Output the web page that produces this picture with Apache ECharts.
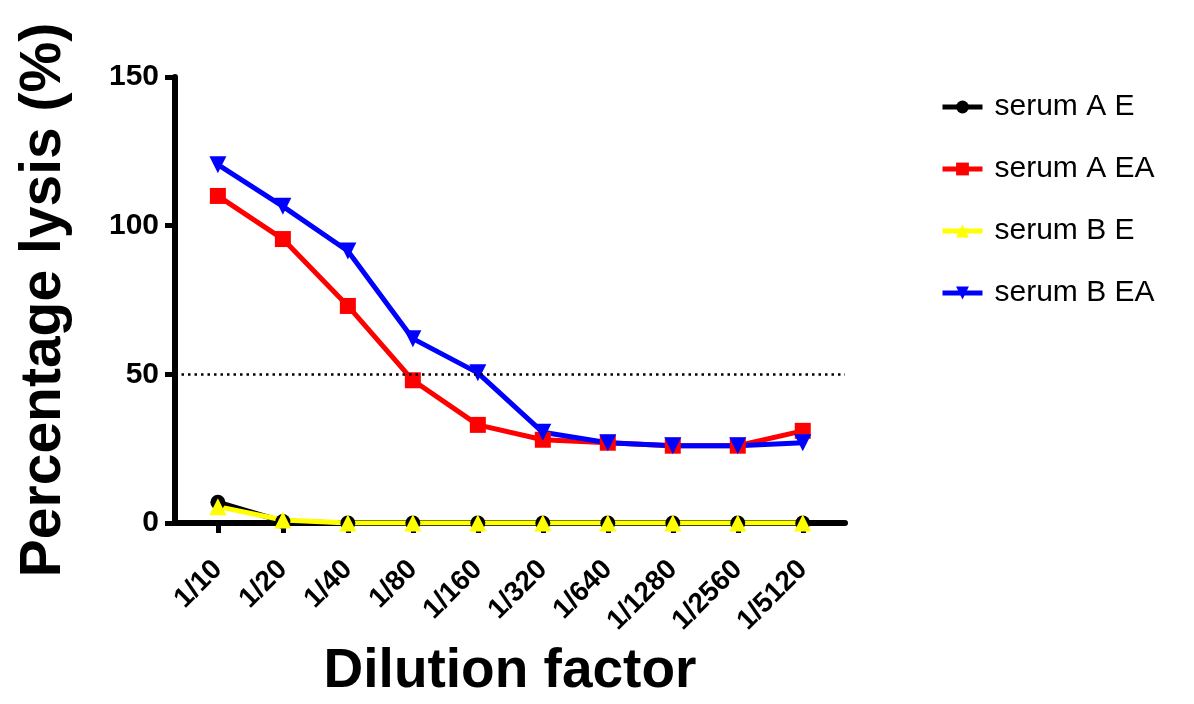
<!DOCTYPE html>
<html>
<head>
<meta charset="utf-8">
<script src="https://cdn.jsdelivr.net/npm/echarts@6/dist/echarts.min.js"></script>
<style>html,body{margin:0;padding:0;background:#fff}#c{width:1194px;height:704px}</style>
</head>
<body>
<div id="c"></div>
<script>
const categories = ['1/10','1/20','1/40','1/80','1/160','1/320','1/640','1/1280','1/2560','1/5120'];
const serumAE  = [7, 0.5, 0, 0, 0, 0, 0, 0, 0, 0];
const serumAEA = [110, 95.5, 73, 48, 33, 28, 27, 26, 26, 31];
const serumBE  = [5.5, 1, 0, 0, 0, 0, 0, 0, 0, 0];
const serumBEA = [120.5, 106.5, 91.5, 62, 50.5, 30.5, 27, 26, 26, 27];
const yTicks = [0, 50, 100, 150];
const refLine = 50;

const pts = arr => arr.map((v, i) => [i, v]);
const font = '"Liberation Sans", Arial, Helvetica, sans-serif';
const chart = echarts.init(document.getElementById('c'));
function ser(name, data, color, symbol, size, rot, extra) {
  return Object.assign({
    name, type: 'line', data: pts(data),
    symbol, symbolSize: size, symbolRotate: rot || 0,
    lineStyle: { color, width: 5 },
    itemStyle: { color },
    emphasis: { disabled: true },
    animation: false
  }, extra || {});
}
chart.setOption({
  animation: false,
  textStyle: { fontFamily: font },
  grid: { left: 175, right: 349, top: 77, bottom: 181, containLabel: false, outerBoundsMode: 'none' },
  legend: {
    orient: 'vertical', left: 940, top: 92, padding: 0, itemWidth: 40, itemHeight: 16, itemGap: 32,
    lineStyle: { width: 5 },
    textStyle: { fontSize: 30, color: '#000', fontFamily: font, padding: [0, 0, 0, 7] },
    data: ['serum A E', 'serum A EA', 'serum B E', 'serum B EA']
  },
  xAxis: {
    type: 'value', min: -0.66, max: 9.65,
    name: 'Dilution factor', nameLocation: 'middle', nameGap: 121, nameMoveOverlap: false,
    nameTextStyle: { fontSize: 55, fontWeight: 'bold', color: '#000', fontFamily: font },
    axisLine: { show: true, onZero: false, lineStyle: { color: '#000', width: 6 } },
    axisTick: { show: true, length: 10, lineStyle: { color: '#000', width: 5 }, customValues: categories.map((c, i) => i) },
    axisLabel: {
      customValues: categories.map((c, i) => i),
      formatter: v => categories[Math.round(v)],
      rotate: 45, fontSize: 28, fontWeight: 'bold', color: '#000', margin: 42, fontFamily: font
    },
    splitLine: { show: false }
  },
  yAxis: {
    type: 'value', min: 0, max: 150, interval: 50,
    name: 'Percentage lysis (%)', nameLocation: 'middle', nameGap: 102, nameMoveOverlap: false,
    nameTextStyle: { fontSize: 57, fontWeight: 'bold', color: '#000', fontFamily: font },
    axisLine: { show: true, onZero: false, lineStyle: { color: '#000', width: 6 } },
    axisTick: { show: true, length: 10, lineStyle: { color: '#000', width: 5 } },
    axisLabel: { fontSize: 30, fontWeight: 'bold', color: '#000', margin: 16, fontFamily: font,
      customValues: yTicks },
    splitLine: { show: false }
  },
  series: [
    ser('serum A E', serumAE, '#000000', 'circle', 15),
    ser('serum A EA', serumAEA, '#ff0000', 'rect', 16, 0, {
      markLine: {
        silent: true, symbol: 'none', animation: false,
        label: { show: false },
        lineStyle: { color: '#000', type: [2.5, 4], width: 2.5 },
        data: [{ yAxis: refLine }]
      }
    }),
    ser('serum B E', serumBE, '#ffff00', 'triangle', 17),
    ser('serum B EA', serumBEA, '#0000ff', 'triangle', 17, 180)
  ]
});
</script>
</body>
</html>
